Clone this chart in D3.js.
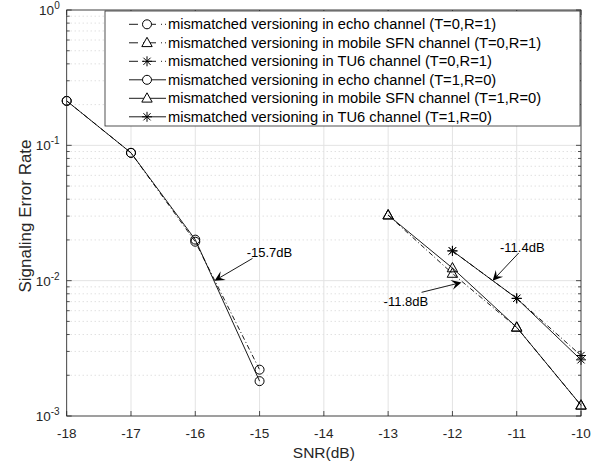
<!DOCTYPE html>
<html>
<head>
<meta charset="utf-8">
<script src="https://cdn.jsdelivr.net/npm/d3@7"></script>
<style>
  body { margin: 0; background: #fff; }
  text { font-family: "Liberation Sans", Arial, sans-serif; fill: #262626; }
</style>
</head>
<body>
<div id="chart"></div>
<script>
// data
const snrEcho = [-18, -17, -16, -15];
const echoT0 = [0.213, 0.088, 0.0194, 0.0022];
const echoT1 = [0.213, 0.088, 0.0201, 0.00181];

const snrMobile = [-13, -12, -11, -10];
const mobileT0 = [0.0305, 0.0113, 0.00452, 0.0012];
const mobileT1 = [0.0305, 0.0124, 0.00452, 0.0012];

const snrTU6 = [-12, -11, -10];
const tu6T0 = [0.0166, 0.0074, 0.0028];
const tu6T1 = [0.0166, 0.0074, 0.0026];

const xTicks = [-18, -17, -16, -15, -14, -13, -12, -11, -10];
const yExps = [0, -1, -2, -3];

const legendLabels = [
  'mismatched versioning in echo channel (T=0,R=1)',
  'mismatched versioning in mobile SFN channel (T=0,R=1)',
  'mismatched versioning in TU6 channel (T=0,R=1)',
  'mismatched versioning in echo channel (T=1,R=0)',
  'mismatched versioning in mobile SFN channel (T=1,R=0)',
  'mismatched versioning in TU6 channel (T=1,R=0)'
];

// annotations: arrow tip, arrow tail, text position (data units)
const notes = [
  { label: '-15.7dB', tip: [-15.7, 0.01], tail: [-15.11, 0.0146], at: [-15.2, 0.0161] },
  { label: '-11.4dB', tip: [-11.375, 0.01], tail: [-10.97, 0.016], at: [-11.26, 0.0177] },
  { label: '-11.8dB', tip: [-11.86, 0.0097], tail: [-12.48, 0.0082], at: [-13.07, 0.0070] }
];

const series = [
  { x: snrEcho, y: echoT0, marker: 'circle', dash: true },
  { x: snrMobile, y: mobileT0, marker: 'triangle', dash: true },
  { x: snrTU6, y: tu6T0, marker: 'star', dash: true },
  { x: snrEcho, y: echoT1, marker: 'circle', dash: false },
  { x: snrMobile, y: mobileT1, marker: 'triangle', dash: false },
  { x: snrTU6, y: tu6T1, marker: 'star', dash: false }
];

const W = 597, H = 463;
const margin = { top: 10, right: 16, bottom: 47, left: 66.7 };
const width = W - margin.left - margin.right;
const height = H - margin.top - margin.bottom;

const svg = d3.select('#chart').append('svg')
  .attr('width', W)
  .attr('height', H);

svg.append('rect').attr('width', W).attr('height', H).attr('fill', '#fff');

const g = svg.append('g')
  .attr('transform', `translate(${margin.left},${margin.top})`);

const x = d3.scaleLinear().domain([-18, -10]).range([0, width]);
const y = d3.scaleLog().domain([1e-3, 1]).range([height, 0]);

// minor values for the log axis
const minor = [];
yExps.slice(0, 3).forEach(e => {
  for (let k = 2; k <= 9; k++) minor.push(k * Math.pow(10, e - 1));
});

// grid
g.append('g').selectAll('line.minor').data(minor).enter().append('line')
  .attr('x1', 0).attr('x2', width)
  .attr('y1', d => y(d)).attr('y2', d => y(d))
  .attr('stroke', '#c8c8c8').attr('stroke-width', 0.8)
  .attr('stroke-dasharray', '1,3');

g.append('g').selectAll('line.vx').data(xTicks).enter().append('line')
  .attr('x1', d => x(d)).attr('x2', d => x(d))
  .attr('y1', 0).attr('y2', height)
  .attr('stroke', '#e3e3e3').attr('stroke-width', 1);

g.append('g').selectAll('line.hy').data(yExps).enter().append('line')
  .attr('x1', 0).attr('x2', width)
  .attr('y1', d => y(Math.pow(10, d))).attr('y2', d => y(Math.pow(10, d)))
  .attr('stroke', '#e3e3e3').attr('stroke-width', 1);

// series lines
const line = d3.line().x(d => x(d[0])).y(d => y(d[1]));

series.forEach(s => {
  const pts = s.x.map((v, i) => [v, s.y[i]]);
  g.append('path')
    .datum(pts)
    .attr('d', line)
    .attr('fill', 'none')
    .attr('stroke', '#000')
    .attr('stroke-width', 0.9)
    .attr('stroke-dasharray', s.dash ? '5,2.5,1,2.5' : null);
});

function drawMarker(sel, type) {
  if (type === 'circle') {
    sel.append('circle').attr('r', 4.5);
  } else if (type === 'triangle') {
    sel.append('path').attr('d', 'M0,-5.5L5.2,3.8L-5.2,3.8Z');
  } else {
    sel.append('path').attr('d', 'M0,-5L0,5M-5,0L5,0M-3.6,-3.6L3.6,3.6M-3.6,3.6L3.6,-3.6');
  }
  sel.attr('fill', 'none').attr('stroke', '#000').attr('stroke-width', 1);
}

series.forEach(s => {
  s.x.forEach((v, i) => {
    const m = g.append('g').attr('transform', `translate(${x(v)},${y(s.y[i])})`);
    drawMarker(m, s.marker);
  });
});

// annotations
notes.forEach(n => {
  const tx = x(n.tip[0]), ty = y(n.tip[1]);
  const sx = x(n.tail[0]), sy = y(n.tail[1]);
  const ang = Math.atan2(ty - sy, tx - sx);
  const L = 10, Wd = 5;
  const ca = Math.cos(ang), sa = Math.sin(ang);
  const bx = tx - L * ca, by = ty - L * sa;
  const ix = tx - L * 0.6 * ca, iy = ty - L * 0.6 * sa;
  g.append('line')
    .attr('x1', sx).attr('y1', sy).attr('x2', ix).attr('y2', iy)
    .attr('stroke', '#000').attr('stroke-width', 0.9);
  g.append('path')
    .attr('d', `M${tx},${ty}L${bx - Wd * sa},${by + Wd * ca}L${ix},${iy}L${bx + Wd * sa},${by - Wd * ca}Z`)
    .attr('fill', '#000');
  g.append('text')
    .attr('x', x(n.at[0])).attr('y', y(n.at[1]))
    .attr('dominant-baseline', 'central')
    .attr('font-size', 13)
    .style('fill', '#000')
    .text(n.label);
});

// axes box and ticks
const box = g.append('g').attr('stroke', '#262626').attr('stroke-width', 0.8);
box.append('rect').attr('width', width).attr('height', height).attr('fill', 'none');

xTicks.forEach(t => {
  box.append('line').attr('x1', x(t)).attr('x2', x(t)).attr('y1', height).attr('y2', height - 5);
  box.append('line').attr('x1', x(t)).attr('x2', x(t)).attr('y1', 0).attr('y2', 5);
});
yExps.forEach(e => {
  const yy = y(Math.pow(10, e));
  box.append('line').attr('x1', 0).attr('x2', 5).attr('y1', yy).attr('y2', yy);
  box.append('line').attr('x1', width).attr('x2', width - 5).attr('y1', yy).attr('y2', yy);
});
minor.forEach(v => {
  box.append('line').attr('x1', 0).attr('x2', 3).attr('y1', y(v)).attr('y2', y(v));
  box.append('line').attr('x1', width).attr('x2', width - 3).attr('y1', y(v)).attr('y2', y(v));
});

// tick labels
g.append('g').selectAll('text').data(xTicks).enter().append('text')
  .attr('x', d => x(d)).attr('y', height + 22)
  .attr('text-anchor', 'middle')
  .attr('font-size', 13.5)
  .text(d => d);

const yl = g.append('g').selectAll('text').data(yExps).enter().append('text')
  .attr('x', -7).attr('y', d => y(Math.pow(10, d)) + 5)
  .attr('text-anchor', 'end')
  .attr('font-size', 13.5);
yl.append('tspan').text('10');
yl.append('tspan').attr('dy', -6).attr('font-size', 10).text(d => d);

// axis labels
g.append('text')
  .attr('x', width / 2).attr('y', height + 41.5)
  .attr('text-anchor', 'middle')
  .attr('font-size', 15.5)
  .text('SNR(dB)');

g.append('text')
  .attr('transform', `translate(${-35.5},${height / 2 + 3}) rotate(-90)`)
  .attr('text-anchor', 'middle')
  .attr('font-size', 17)
  .text('Signaling Error Rate');

// legend
const lg = svg.append('g').attr('transform', 'translate(105,11)');
lg.append('rect')
  .attr('width', 475).attr('height', 115)
  .attr('fill', '#fff').attr('stroke', '#262626').attr('stroke-width', 0.8);

legendLabels.forEach((lab, i) => {
  const s = series[i];
  const row = lg.append('g').attr('transform', `translate(0,${13.3 + i * 18.5})`);
  row.append('line')
    .attr('x1', 24).attr('x2', 61)
    .attr('stroke', '#000').attr('stroke-width', 0.9)
    .attr('stroke-dasharray', s.dash ? '9,5,1,3' : null);
  const m = row.append('g').attr('transform', 'translate(42,0)');
  drawMarker(m, s.marker);
  m.select('circle').attr('fill', '#fff');
  m.select('path').attr('fill', s.marker === 'triangle' ? '#fff' : 'none');
  row.append('text')
    .attr('x', 63).attr('y', 0)
    .attr('dominant-baseline', 'central')
    .attr('font-size', 14.7)
    .style('fill', '#000')
    .text(lab);
});
</script>
</body>
</html>
